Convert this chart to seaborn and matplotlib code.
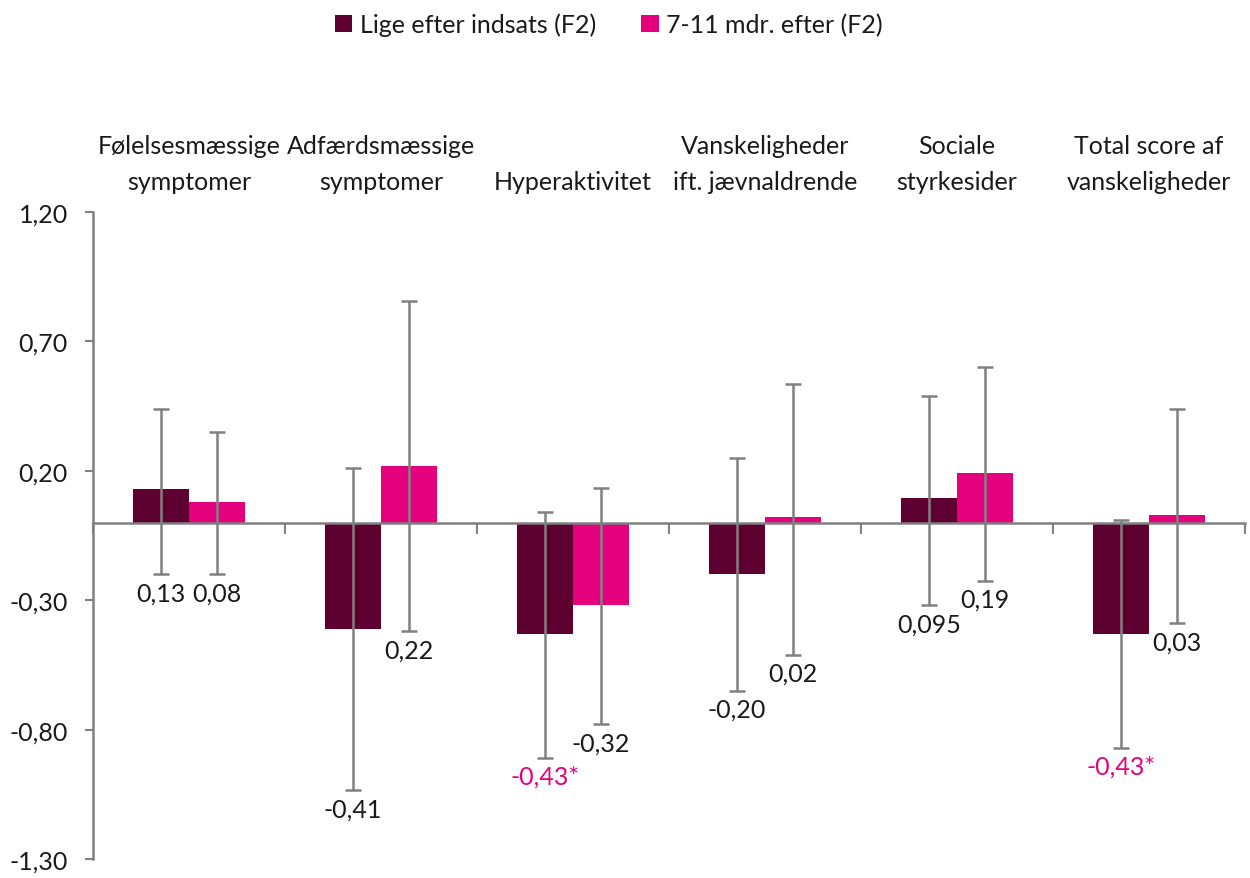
import numpy as np
import pandas as pd
import matplotlib
matplotlib.use("Agg")
import matplotlib.pyplot as plt
import seaborn as sns

categories = ["Følelsesmæssige\nsymptomer", "Adfærdsmæssige\nsymptomer", "Hyperaktivitet",
              "Vanskeligheder\nift. jævnaldrende", "Sociale\nstyrkesider", "Total score af\nvanskeligheder"]
series = ["Lige efter indsats (F2)", "7-11 mdr. efter (F2)"]
vals_f2_now = [0.13, -0.41, -0.43, -0.20, 0.095, -0.43]
vals_f2_late = [0.08, 0.22, -0.32, 0.02, 0.19, 0.03]
ci_low_now = [-0.20, -1.035, -0.91, -0.65, -0.32, -0.87]
ci_high_now = [0.44, 0.21, 0.04, 0.25, 0.49, 0.01]
ci_low_late = [-0.20, -0.42, -0.78, -0.51, -0.225, -0.39]
ci_high_late = [0.35, 0.855, 0.135, 0.535, 0.60, 0.44]
labels_now = ["0,13", "-0,41", "-0,43*", "-0,20", "0,095", "-0,43*"]
labels_late = ["0,08", "0,22", "-0,32", "0,02", "0,19", "0,03"]
signif_now = [False, False, True, False, False, True]
signif_late = [False, False, False, False, False, False]
yticks = [1.20, 0.70, 0.20, -0.30, -0.80, -1.30]

DARK = "#5E0030"
PINK = "#E5007D"
GRAY = "#808080"
FS = 18

sns.set_theme(style="white")
plt.rcParams['font.family'] = ['Lato', 'DejaVu Sans']

df = pd.DataFrame({
    "cat": categories * 2,
    "series": [series[0]] * 6 + [series[1]] * 6,
    "value": vals_f2_now + vals_f2_late,
})

fig = plt.figure(figsize=(12.5, 8.79), dpi=100)
ax = fig.add_axes([0.0744, 0.0216, 0.9216, 0.7361])

sns.barplot(data=df, x="cat", y="value", hue="series", order=categories,
            hue_order=series, palette=[DARK, PINK], width=0.58, errorbar=None,
            ax=ax, saturation=1, legend=True, edgecolor="none", linewidth=0)

ax.set_ylim(-1.30, 1.20)
ax.set_xlim(-0.5, 5.5)
ax.set_yticks(yticks)
ax.set_yticklabels([f"{t:.2f}".replace(".", ",") for t in yticks], fontsize=FS, color="#1a1a1a")
ax.set_xlabel("")
ax.set_ylabel("")

for s in ["top", "right"]:
    ax.spines[s].set_visible(False)
ax.spines["left"].set_color(GRAY)
ax.spines["left"].set_linewidth(1.8)
ax.spines["bottom"].set_position(("data", 0))
ax.spines["bottom"].set_color(GRAY)
ax.spines["bottom"].set_linewidth(1.8)
ax.tick_params(axis="y", left=True, direction="out", length=6, width=1.5, color=GRAY, pad=12)
ax.set_xticks(np.arange(-0.5, 6.0, 1.0))
ax.set_xticklabels([""] * 7)
ax.tick_params(axis="x", bottom=True, direction="out", length=8, width=1.5, color=GRAY)

# error bars and labels
data_sets = [
    (vals_f2_now, ci_low_now, ci_high_now, labels_now, signif_now),
    (vals_f2_late, ci_low_late, ci_high_late, labels_late, signif_late),
]
for cont, (vals, lo, hi, labs, sig) in zip(ax.containers, data_sets):
    for bar, v, l, h, t, s in zip(cont, vals, lo, hi, labs, sig):
        xc = bar.get_x() + bar.get_width() / 2
        ax.errorbar(xc, v, yerr=[[v - l], [h - v]], fmt="none", ecolor=GRAY,
                    elinewidth=1.8, capsize=6, capthick=1.8, zorder=3)
        ax.annotate(t, xy=(xc, l), xytext=(0, -5), textcoords="offset points",
                    ha="center", va="top", fontsize=FS,
                    color=PINK if s else "#1a1a1a")

# category labels at top
for i, c in enumerate(categories):
    ax.text(i, 1.03, c, transform=ax.get_xaxis_transform(), ha="center", va="bottom",
            fontsize=FS, color="#1a1a1a", linespacing=1.65)

leg = ax.legend(loc="upper center", bbox_to_anchor=(0.487, 1.01), bbox_transform=fig.transFigure,
                ncol=2, frameon=False, fontsize=FS, handlelength=0.7, handleheight=0.7,
                handletextpad=0.3, columnspacing=1.8)
for t in leg.get_texts():
    t.set_color("#1a1a1a")

fig.savefig("out.png", dpi=100)
